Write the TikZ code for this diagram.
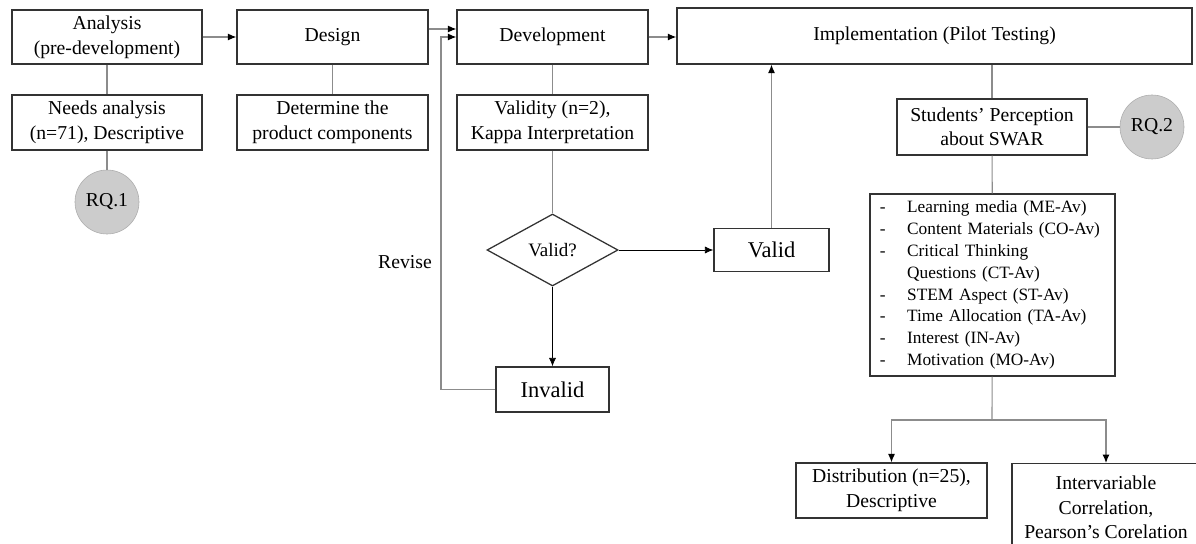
\documentclass[tikz,border=0pt]{standalone}
\usepackage{fontspec}
\setmainfont{Liberation Serif}
\usetikzlibrary{arrows.meta,shapes,positioning}
\definecolor{linegray}{gray}{0.55}
\definecolor{boxgray}{gray}{0.2}
\definecolor{rqgray}{gray}{0.8}
\begin{document}
\begin{tikzpicture}[x=0.025cm,y=0.025cm]
                \tikzstyle{every node}+=[font=\fontsize{14}{17.5}\selectfont]
                \tikzstyle{box}=[draw=boxgray, line width=0.9pt, align=center, inner sep=2pt]
                \tikzstyle{conn}=[draw=linegray, line width=0.8pt]
                \tikzstyle{arr}=[conn, -{Latex[length=6pt,width=5pt,color=black]}]
                \tikzstyle{rq}=[circle, fill=rqgray, draw=gray!65, minimum size=1.6cm, inner sep=0pt]
                \useasboundingbox (0,0) rectangle (1196,-544);
                \node [box, minimum width=4.75cm, minimum height=1.35cm] (analysis) at (107,-37) {Analysis\\(pre-development)};
                \node [box, minimum width=4.775cm, minimum height=1.35cm] (design) at (332.5,-37) {Design};
                \node [box, minimum width=4.775cm, minimum height=1.35cm] (devel) at (552.5,-37) {Development};
                \node [box, minimum width=12.875cm, minimum height=1.4cm] (impl) at (934.5,-36) {Implementation (Pilot Testing)};
                \node [box, minimum width=4.75cm, minimum height=1.375cm] (needs) at (107,-122.5) {Needs analysis\\(n=71), Descriptive};
                \node [rq] (rqone) at (107,-202) {RQ.1};
                \node [box, minimum width=4.775cm, minimum height=1.375cm] (components) at (332.5,-122.5) {Determine the\\product components};
                \node [box, minimum width=4.775cm, minimum height=1.375cm] (validity) at (552.5,-122.5) {Validity (n=2),\\Kappa Interpretation};
                \node [diamond, draw=boxgray, line width=0.9pt, minimum width=3.275cm, minimum height=1.8cm, inner sep=0pt, font=\fontsize{13.5}{16}\selectfont] (check) at (552.5,-250) {Valid?};
                \node [box, minimum width=2.875cm, minimum height=1.075cm, font=\fontsize{16}{19}\selectfont] (valid) at (771.5,-250) {Valid};
                \node [box, minimum width=2.825cm, minimum height=1.125cm, font=\fontsize{16}{19}\selectfont] (invalid) at (552.5,-389.5) {Invalid};
                \node (revise) at (405,-262) {Revise};
                \coordinate (revtop) at (441,-37);
                \node [box, minimum width=4.75cm, minimum height=1.4cm] (percep) at (992,-127) {Students' Perception\\about SWAR};
                \node [rq] (rqtwo) at (1152,-127) {RQ.2};
                \node [box, minimum height=4.55cm, inner xsep=0.25cm, text width=5.625cm, align=left, font=\fontsize{12.3}{15.5}\selectfont] (aspects) at (992.5,-285) {%
                  \makebox[0.68cm][l]{-}Learning media (ME-Av)\\
                  \makebox[0.68cm][l]{-}Content Materials (CO-Av)\\
                  \makebox[0.68cm][l]{-}Critical Thinking\\
                  \makebox[0.68cm][l]{}Questions (CT-Av)\\
                  \makebox[0.68cm][l]{-}STEM Aspect (ST-Av)\\
                  \makebox[0.68cm][l]{-}Time Allocation (TA-Av)\\
                  \makebox[0.68cm][l]{-}Interest (IN-Av)\\
                  \makebox[0.68cm][l]{-}Motivation (MO-Av)};
                \coordinate (split) at (992,-420);
                \node [box, minimum width=4.775cm, minimum height=1.375cm] (distrib) at (891.5,-490.5) {Distribution (n=25),\\Descriptive};
                \node [box, minimum width=4.7cm, minimum height=2.2cm, anchor=north] (correl) at (1106,-463) {Intervariable\\Correlation,\\Pearson's Corelation};
                \draw [arr] (analysis) -- (design);
                \draw [arr] ([yshift=0.2cm]design.east) -- ([yshift=0.2cm]devel.west);
                \draw [arr] (devel.east) -- (devel.east -| impl.west);
                \draw [conn] (analysis) -- (needs);
                \draw [conn] (needs) -- (rqone);
                \draw [conn] (design) -- (components);
                \draw [conn] (devel) -- (validity);
                \draw [conn] (validity) -- (check);
                \draw [arr, draw=black, line width=0.5pt] (check) -- (valid);
                \draw [arr, draw=black, line width=0.5pt] (check) -- (invalid);
                \draw [arr] (invalid.west) -| (revtop) -- (revtop -| devel.west);
                \draw [arr] (valid) -- (valid |- impl.south);
                \draw [conn] (percep.north) -- (percep.north |- impl.south);
                \draw [conn] (percep) -- (rqtwo);
                \draw [conn] (percep) -- (aspects);
                \draw [conn] (aspects) -- (split);
                \draw [arr] (split) -| (distrib.north);
                \draw [arr] (split) -| (correl.north);
            \end{tikzpicture}
\end{document}
